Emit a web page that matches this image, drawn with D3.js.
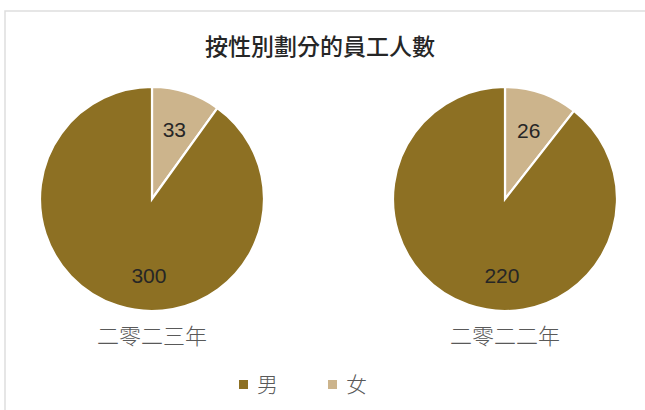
<!DOCTYPE html>
<html><head><meta charset="utf-8">
<script src="https://cdn.jsdelivr.net/npm/d3@7"></script>
<style>
html,body{margin:0;padding:0;background:#fff;}
svg{display:block;}
</style></head>
<body>
<svg id="c" width="645" height="410"></svg>
<script>
const title = "按性別劃分的員工人數";
const categories = ["男", "女"];
const years = ["二零二三年", "二零二二年"];
const values2023 = [300, 33];
const values2022 = [220, 26];
const colors = ["#8D7023", "#CCB48C"];

const svg = d3.select("#c");
const W = 645, H = 410;

// border
svg.append("path")
  .attr("d", `M5,${H+5} L5,11 L${W+5},11`)
  .attr("fill", "none").attr("stroke", "#dedede").attr("stroke-width", 1.5);

svg.append("text").attr("x", 320).attr("y", 55)
  .attr("text-anchor", "middle")
  .attr("font-family", "'Noto Sans CJK TC', 'Noto Sans CJK SC', sans-serif")
  .attr("font-size", 23).attr("font-weight", 500).attr("fill", "#262626")
  .text(title);

const color = d3.scaleOrdinal().domain(categories).range(colors);
const xPos = d3.scalePoint().domain(years).range([152, 505]);
const R = 112, cy = 199;

const series = [values2023, values2022];
const pie = d3.pie().sort(null).value(d => d.v);
const arc = d3.arc().innerRadius(0).outerRadius(R);

years.forEach((yr, i) => {
  // draw slices: 女 first from 12 o'clock clockwise, then 男
  const data = categories.map((c, j) => ({c, v: series[i][j]})).reverse();
  const arcs = pie(data);
  const g = svg.append("g").attr("transform", `translate(${xPos(yr)},${cy})`);
  g.selectAll("path").data(arcs).join("path")
    .attr("d", arc)
    .attr("fill", d => color(d.data.c))
    .attr("stroke", "#fff").attr("stroke-width", 2.2).attr("stroke-linejoin", "miter");
  g.selectAll("text").data(arcs).join("text")
    .attr("transform", d => {
      const span = d.endAngle - d.startAngle;
      const a = span > Math.PI ? Math.PI + 0.04 : (d.startAngle + d.endAngle) / 2;
      const rr = span > Math.PI ? 76 : 73;
      return `translate(${rr * Math.sin(a)},${-rr * Math.cos(a)})`;
    })
    .attr("dy", "0.36em")
    .attr("text-anchor", "middle")
    .attr("font-family", "'Liberation Sans', Arial, sans-serif")
    .attr("font-size", 21).attr("fill", "#262626")
    .text(d => d.data.v);
  svg.append("text").attr("x", xPos(yr)).attr("y", 344)
    .attr("text-anchor", "middle")
    .attr("font-family", "'Noto Sans CJK TC', 'Noto Sans CJK SC', sans-serif")
    .attr("font-size", 22).attr("font-weight", 300).attr("fill", "#595959")
    .text(yr);
});

// legend
const legX = d3.scalePoint().domain(categories).range([239, 328]);
const lg = svg.append("g");
categories.forEach(c => {
  lg.append("rect").attr("x", legX(c)).attr("y", 380).attr("width", 9).attr("height", 9)
    .attr("fill", color(c));
  lg.append("text").attr("x", legX(c) + 18).attr("y", 392)
    .attr("font-family", "'Noto Sans CJK TC', 'Noto Sans CJK SC', sans-serif")
    .attr("font-size", 21).attr("font-weight", 300).attr("fill", "#595959")
    .text(c);
});
</script>
</body></html>
